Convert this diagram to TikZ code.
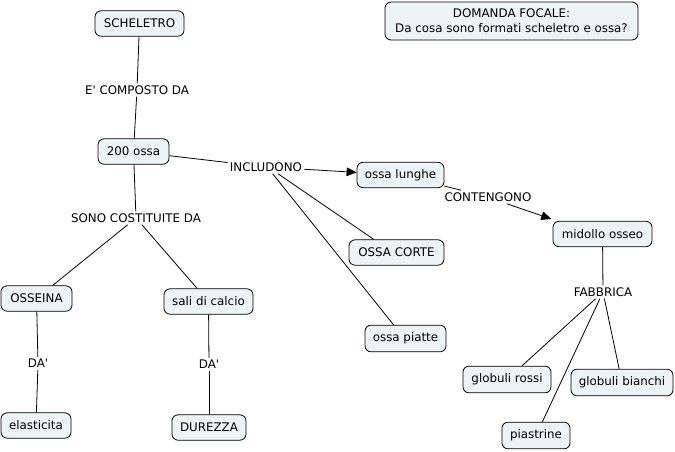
\documentclass[tikz,border=0pt]{standalone}
\usepackage{fontspec}
\setmainfont{DejaVu Sans}[Ligatures=TeXOff]
\usetikzlibrary{arrows.meta}
\definecolor{boxfill}{HTML}{EEF3F5}
\begin{document}
\begin{tikzpicture}[x=0.75pt,y=-0.75pt,
  concept/.style={draw=black,fill=boxfill,rounded corners=4.5pt,line width=0.6pt,inner sep=0pt,font=\fontsize{8.9}{11}\selectfont,minimum height=19pt,align=center},
  linkl/.style={inner sep=1.5pt,font=\fontsize{8.9}{11}\selectfont},
  conn/.style={draw=black,line width=0.6pt},
  arr/.style={conn,-{Triangle[length=7.5pt,width=6.5pt]}}]
\useasboundingbox (0,0) rectangle (675,451);
\fill[white] (0,0) rectangle (675,451);
% concepts
\node[concept,minimum width=66.75pt] (sch) at (139.5,23.5) {SCHELETRO};
\node[concept,minimum width=189.75pt,minimum height=28.5pt] (dom) at (511.5,21) {DOMANDA FOCALE:\\Da cosa sono formati scheletro e ossa?};
\node[concept,minimum width=53.25pt] (oss) at (133.5,151.5) {200 ossa};
\node[concept,minimum width=65.25pt] (lung) at (400.5,175) {ossa lunghe};
\node[concept,minimum width=74.25pt] (mid) at (602.5,234) {midollo osseo};
\node[concept,minimum width=53.25pt] (osn) at (36.5,298.5) {OSSEINA};
\node[concept,minimum width=66.75pt] (sali) at (208.5,301.5) {sali di calcio};
\node[concept,minimum width=71.25pt] (corte) at (396.5,252.5) {OSSA CORTE};
\node[concept,minimum width=60.75pt,minimum height=20pt] (piat) at (405.5,338.5) {ossa piatte};
\node[concept,minimum width=66pt,minimum height=20pt] (rossi) at (507,379.5) {globuli rossi};
\node[concept,minimum width=76.5pt,minimum height=20pt] (bian) at (622,382.5) {globuli bianchi};
\node[concept,minimum width=51pt,minimum height=20pt] (pias) at (536,435.5) {piastrine};
\node[concept,minimum width=52.5pt] (elas) at (36,425.5) {elasticita};
\node[concept,minimum width=55.5pt] (dur) at (209,427.5) {DUREZZA};
% link labels
\node[linkl] (l1) at (137,90) {E' COMPOSTO DA};
\node[linkl] (l2) at (266,167) {INCLUDONO};
\node[linkl] (l3) at (488,197) {CONTENGONO};
\node[linkl] (l4) at (136,218) {SONO COSTITUITE DA};
\node[linkl] (l5) at (38,363.5) {DA'};
\node[linkl] (l6) at (209,364.5) {DA'};
\node[linkl] (l7) at (603,292) {FABBRICA};
% anchor points
\coordinate (l2a) at ([xshift=9pt]l2.south);
\coordinate (l2b) at ([xshift=5pt]l2.south);
\coordinate (corteIn) at ([xshift=-17pt]corte.north);
\coordinate (piatIn) at ([xshift=-9pt]piat.north);
\coordinate (l3out) at ([xshift=14pt]l3.south);
\coordinate (midIn) at ([xshift=-1pt,yshift=1.5pt]mid.north west);
% connectors
\draw[conn] (sch) -- (l1);
\draw[conn] (l1) -- (oss);
\draw[conn] (oss) -- (l2);
\draw[arr] (l2) -- (lung);
\draw[conn] (l2a) -- (corteIn);
\draw[conn] (l2b) -- (piatIn);
\draw[conn] (lung) -- (l3);
\draw[arr] (l3out) -- (midIn);
\draw[conn] (oss) -- (l4);
\draw[conn] (l4) -- (osn);
\draw[conn] (l4) -- (sali);
\draw[conn] (osn) -- (l5);
\draw[conn] (l5) -- (elas);
\draw[conn] (sali) -- (l6);
\draw[conn] (l6) -- (dur);
\draw[conn] (mid) -- (l7);
\draw[conn] (l7) -- (rossi);
\draw[conn] (l7) -- (pias);
\draw[conn] (l7) -- (bian);
\end{tikzpicture}
\end{document}
